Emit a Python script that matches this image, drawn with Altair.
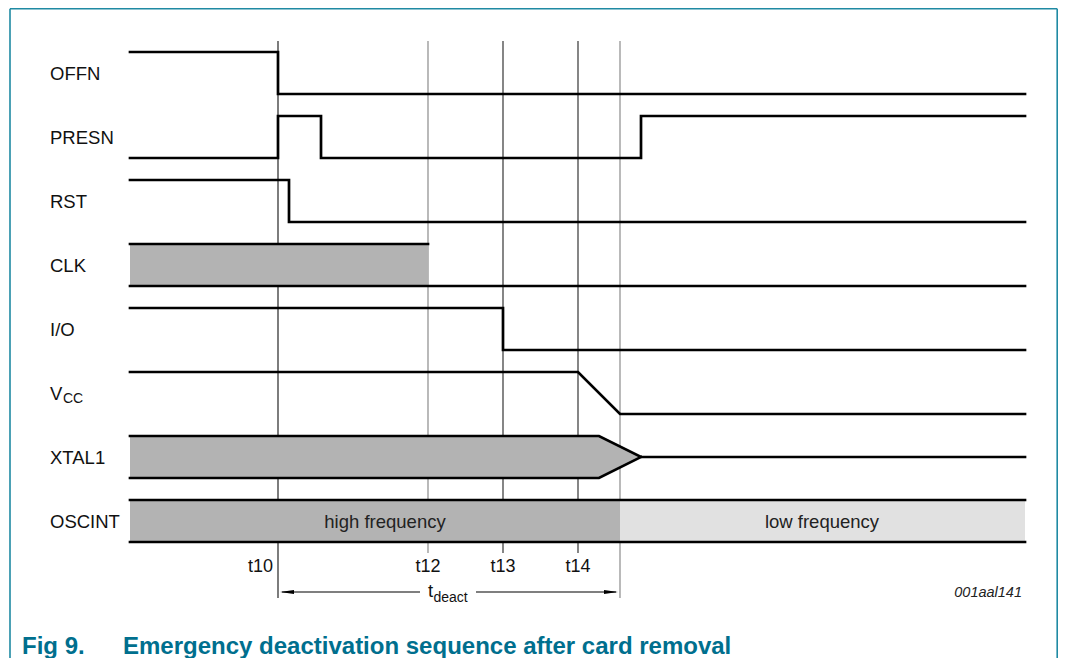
import altair as alt
import pandas as pd

# ---------------- data ----------------
# time axis in diagram units, logic levels 0 (low) / 1 (high)
signal_names = ["OFFN", "PRESN", "RST", "CLK", "I/O", "VCC", "XTAL1", "OSCINT"]

offn_times = [130, 278, 278, 1025]
offn_levels = [1, 1, 0, 0]
presn_times = [130, 278, 278, 321, 321, 641, 641, 1025]
presn_levels = [0, 0, 1, 1, 0, 0, 1, 1]
rst_times = [130, 289, 289, 1025]
rst_levels = [1, 1, 0, 0]
clk_low_times = [130, 1025]
clk_low_levels = [0, 0]
clk_burst_times = [130, 428]          # clock running (grey block)
io_times = [130, 503, 503, 1025]
io_levels = [1, 1, 0, 0]
vcc_times = [130, 578, 620, 1025]
vcc_levels = [1, 1, 0, 0]
xtal_top_times = [130, 599, 641, 1025]
xtal_top_levels = [1, 1, 0.5, 0.5]
xtal_bot_times = [130, 599, 641]
xtal_bot_levels = [0, 0, 0.5]
osc_times = [130, 1025]

osc_phase_labels = ["high frequency", "low frequency"]
osc_phase_start = [130, 620]
osc_phase_end = [620, 1025]
osc_label_time = [385, 822]

marker_names = ["t10", "t12", "t13", "t14", ""]
marker_times = [278, 428, 503, 578, 620]

deact_start = 278
deact_end = 620

# ---------------- layout helpers ----------------
ROW_TOP, ROW_PITCH, SWING = 52, 64, 42


def ylev(row, level):
    return ROW_TOP + ROW_PITCH * row + SWING * (1 - level)


FONT = "Liberation Sans"
TEAL = "#006f8e"
FRAME = "#1f8aa3"
W, H = 1050, 650

X = lambda f="x": alt.X(f"{f}:Q", scale=alt.Scale(domain=[8, 8 + W], nice=False, zero=False), axis=None)
Y = lambda f="y": alt.Y(f"{f}:Q", scale=alt.Scale(domain=[8, 8 + H], nice=False, zero=False, reverse=True), axis=None)

# ---------------- waveform polylines ----------------
wave_rows = []


def add_wave(name, row, times, levels):
    for i, (t, l) in enumerate(zip(times, levels)):
        wave_rows.append({"sig": name, "o": i, "x": t, "y": ylev(row, l)})


add_wave("OFFN", 0, offn_times, offn_levels)
add_wave("PRESN", 1, presn_times, presn_levels)
add_wave("RST", 2, rst_times, rst_levels)
add_wave("CLKlow", 3, clk_low_times, clk_low_levels)
add_wave("CLKtop", 3, clk_burst_times, [1, 1])
add_wave("IO", 4, io_times, io_levels)
add_wave("VCC", 5, vcc_times, vcc_levels)
add_wave("XTtop", 6, xtal_top_times, xtal_top_levels)
add_wave("XTbot", 6, xtal_bot_times, xtal_bot_levels)
add_wave("OSCtop", 7, osc_times, [1, 1])
add_wave("OSCbot", 7, osc_times, [0, 0])
waves = pd.DataFrame(wave_rows)

wave_layer = alt.Chart(waves).mark_line(color="black", strokeWidth=2.7, strokeJoin="miter", strokeCap="square").encode(
    x=X(), y=Y(), detail="sig:N", order="o:Q"
)

# ---------------- filled blocks ----------------
blocks = pd.DataFrame({
    "x": [clk_burst_times[0]] + osc_phase_start,
    "x2": [clk_burst_times[1]] + osc_phase_end,
    "y": [ylev(3, 1), ylev(7, 1), ylev(7, 1)],
    "y2": [ylev(3, 0), ylev(7, 0), ylev(7, 0)],
    "fill": ["#b3b3b3", "#b3b3b3", "#e1e1e1"],
})
block_layer = alt.Chart(blocks).mark_rect().encode(
    x=X(), x2="x2:Q", y=Y(), y2="y2:Q", color=alt.Color("fill:N", scale=None)
)

xtal_fill = pd.DataFrame({
    "x": xtal_bot_times,
    "y": [ylev(6, l) for l in xtal_top_levels[:3]],
    "y2": [ylev(6, l) for l in xtal_bot_levels],
})
xtal_layer = alt.Chart(xtal_fill).mark_area(color="#b3b3b3", opacity=1).encode(
    x=X(), y=Y(), y2="y2:Q"
)

# ---------------- time markers ----------------
markers = pd.DataFrame({
    "x": marker_times,
    "y": [41] * 5,
    "y2": [598, 553, 553, 553, 598],
    "c": ["#111111", "#808080", "#222222", "#222222", "#808080"],
})
marker_layer = alt.Chart(markers).mark_rule(strokeWidth=1.1).encode(
    x=X(), y=Y(), y2="y2:Q", color=alt.Color("c:N", scale=None)
)

tick_lab = pd.DataFrame({
    "x": [marker_times[0] - 5] + marker_times[1:4],
    "y": [567] * 4,
    "t": marker_names[:4],
    "a": ["right", "center", "center", "center"],
})
tick_right = alt.Chart(tick_lab[tick_lab.a == "right"]).mark_text(
    font=FONT, fontSize=18, align="right", baseline="middle", color="#111"
).encode(x=X(), y=Y(), text="t:N")
tick_center = alt.Chart(tick_lab[tick_lab.a == "center"]).mark_text(
    font=FONT, fontSize=18, align="center", baseline="middle", color="#111"
).encode(x=X(), y=Y(), text="t:N")

# ---------------- signal labels ----------------
labels = pd.DataFrame({
    "x": [50] * 8,
    "y": [ylev(r, 0.5) + 1 for r in range(8)],
    "t": ["OFFN", "PRESN", "RST", "CLK", "I/O", "V", "XTAL1", "OSCINT"],
})
label_layer = alt.Chart(labels).mark_text(
    font=FONT, fontSize=18.5, align="left", baseline="middle", color="#111"
).encode(x=X(), y=Y(), text="t:N")
vcc_sub = alt.Chart(pd.DataFrame({"x": [63], "y": [ylev(5, 0.5) + 6], "t": ["CC"]})).mark_text(
    font=FONT, fontSize=14, align="left", baseline="middle", color="#111"
).encode(x=X(), y=Y(), text="t:N")

osc_text = alt.Chart(pd.DataFrame({"x": osc_label_time, "y": [ylev(7, 0.5) + 1] * 2, "t": osc_phase_labels})).mark_text(
    font=FONT, fontSize=18.5, align="center", baseline="middle", color="#222"
).encode(x=X(), y=Y(), text="t:N")

# ---------------- t_deact arrow ----------------
arrow_line = alt.Chart(pd.DataFrame({"x": [deact_start + 4], "x2": [deact_end - 4], "y": [592]})).mark_rule(
    color="black", strokeWidth=1.1
).encode(x=X(), x2="x2:Q", y=Y())
heads = pd.DataFrame({
    "x": [deact_start + 9, deact_end - 9],
    "y": [592, 592],
    "s": ["M-1,0L1,-0.28L1,0.28Z", "M1,0L-1,-0.28L-1,0.28Z"],
})
head_left = alt.Chart(heads.iloc[[0]]).mark_point(
    shape=heads.s[0], filled=True, color="black", size=196, opacity=1, strokeWidth=0
).encode(x=X(), y=Y())
head_right = alt.Chart(heads.iloc[[1]]).mark_point(
    shape=heads.s[1], filled=True, color="black", size=196, opacity=1, strokeWidth=0
).encode(x=X(), y=Y())
deact_bg = alt.Chart(pd.DataFrame({"x": [420], "x2": [476], "y": [582], "y2": [604]})).mark_rect(color="white").encode(
    x=X(), x2="x2:Q", y=Y(), y2="y2:Q"
)
deact_t = alt.Chart(pd.DataFrame({"x": [428], "y": [591], "t": ["t"]})).mark_text(
    font=FONT, fontSize=18.5, align="left", baseline="middle", color="#111"
).encode(x=X(), y=Y(), text="t:N")
deact_sub = alt.Chart(pd.DataFrame({"x": [433.5], "y": [598], "t": ["deact"]})).mark_text(
    font=FONT, fontSize=14, align="left", baseline="middle", color="#111"
).encode(x=X(), y=Y(), text="t:N")

code_text = alt.Chart(pd.DataFrame({"x": [1022], "y": [593], "t": ["001aal141"]})).mark_text(
    font=FONT, fontSize=14.5, fontStyle="italic", align="right", baseline="middle", color="#222"
).encode(x=X(), y=Y(), text="t:N")

# ---------------- caption and frame ----------------
title_fig = alt.Chart(pd.DataFrame({"x": [22], "y": [654], "t": ["Fig 9."]})).mark_text(
    font=FONT, fontSize=24, fontWeight="bold", align="left", baseline="alphabetic", color=TEAL
).encode(x=X(), y=Y(), text="t:N")
title_main = alt.Chart(pd.DataFrame({"x": [123], "y": [654], "t": ["Emergency deactivation sequence after card removal"]})).mark_text(
    font=FONT, fontSize=24, fontWeight="bold", align="left", baseline="alphabetic", color=TEAL
).encode(x=X(), y=Y(), text="t:N")

frame = pd.DataFrame({
    "x": [10, 10, 1057.2],
    "x2": [1057.2, 10, 1057.2],
    "y": [8.8, 8.8, 8.8],
    "y2": [8.8, 666, 666],
})
frame_layer = alt.Chart(frame).mark_rule(color=FRAME, strokeWidth=1.6).encode(
    x=X(), x2="x2:Q", y=Y(), y2="y2:Q"
)

chart = alt.layer(
    frame_layer,
    marker_layer,
    block_layer,
    xtal_layer,
    wave_layer,
    label_layer,
    vcc_sub,
    osc_text,
    tick_right,
    tick_center,
    arrow_line,
    head_left,
    head_right,
    deact_bg,
    deact_t,
    deact_sub,
    code_text,
    title_fig,
    title_main,
).properties(
    width=W, height=H, padding=0, autosize=alt.AutoSizeParams(type="none"), background="white"
).configure_view(stroke=None)

chart.save("out.html", embed_options={"renderer": "svg", "actions": False})
